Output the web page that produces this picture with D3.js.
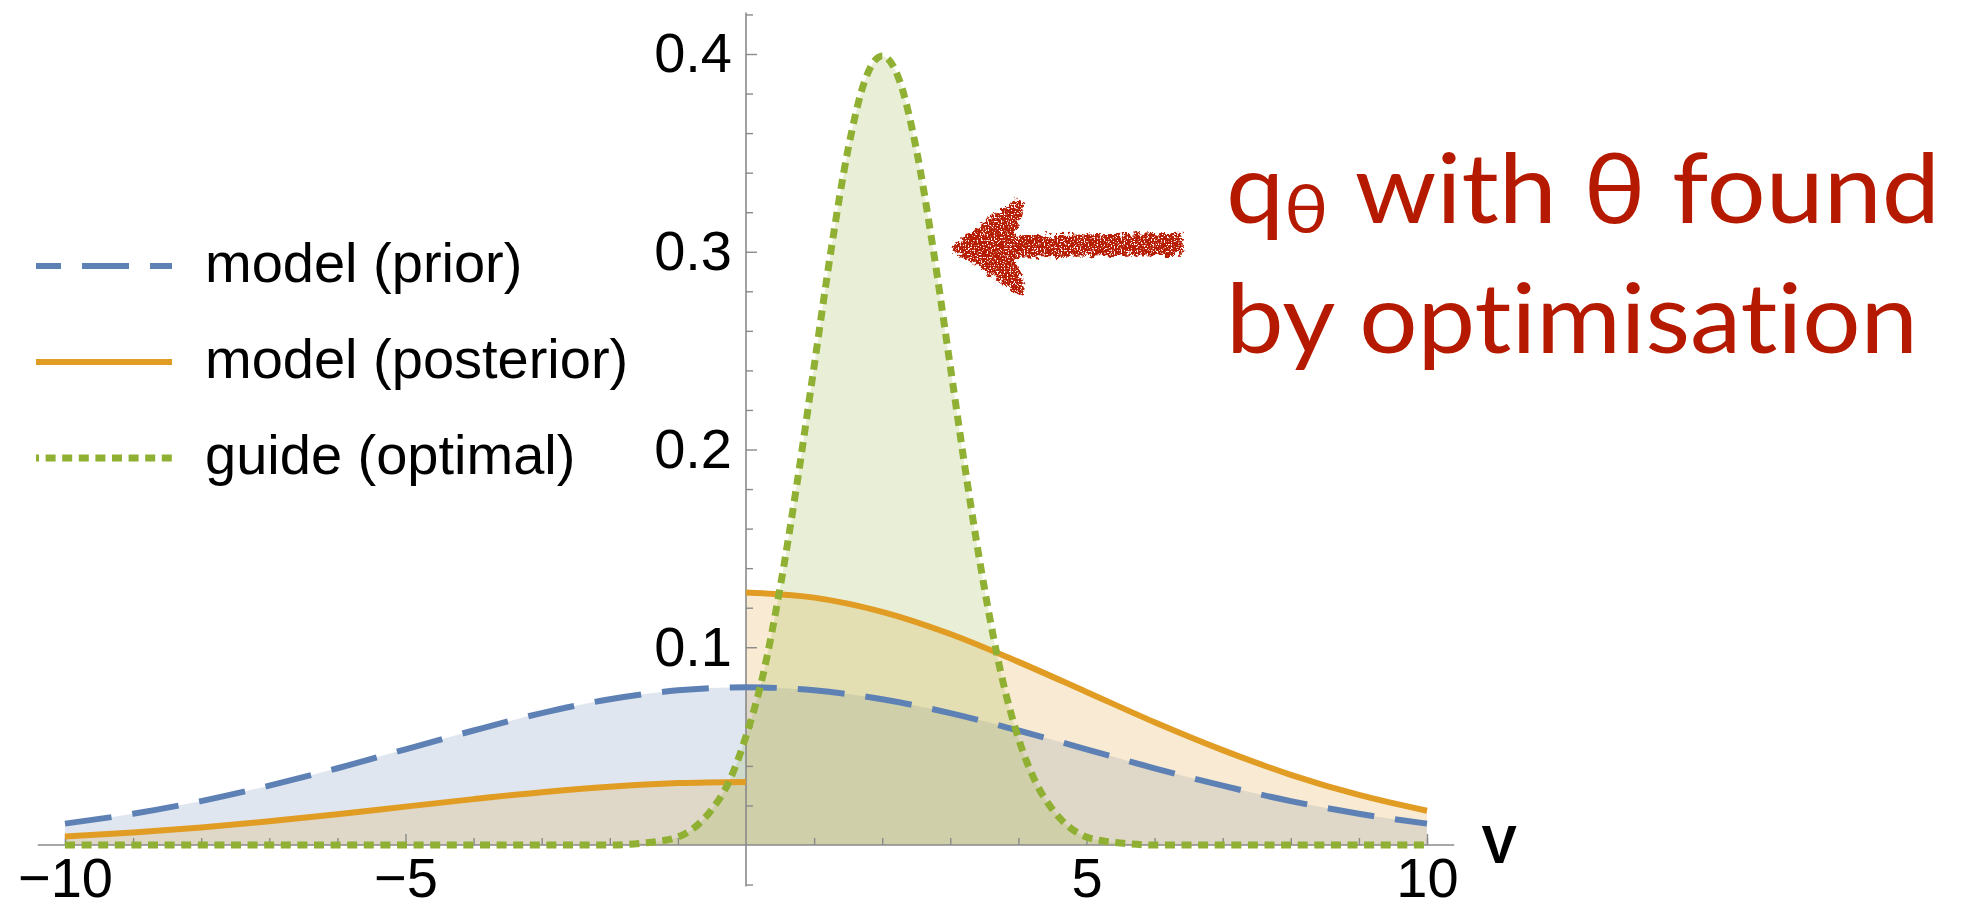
<!DOCTYPE html>
<html><head><meta charset="utf-8">
<script src="https://cdn.jsdelivr.net/npm/d3@7"></script>
<style>html,body{margin:0;padding:0;background:#fff;} svg{display:block} .note{font-variant-ligatures:none;font-feature-settings:"liga" 0,"clig" 0,"dlig" 0;}</style>
</head><body>
<svg id="chart" width="1972" height="912"></svg>
<script>
// ---- data ----
const priorX = [-10,-9,-8,-7,-6,-5,-4,-3,-2,-1,0,1,2,3,4,5,6,7,8,9,10];
const priorY = [0.0108,0.0158,0.0222,0.0300,0.0388,0.0484,0.0579,0.0667,0.0737,0.0782,0.0798,0.0782,0.0737,0.0667,0.0579,0.0484,0.0388,0.0300,0.0222,0.0158,0.0108];
const postLeftX = [-10,-9,-8,-7,-6,-5,-4,-3,-2,-1,0];
const postLeftY = [0.0043,0.0063,0.0089,0.0120,0.0155,0.0194,0.0232,0.0267,0.0295,0.0313,0.0319];
const postRightX = [0,1,2,3,4,5,6,7,8,9,10];
const postRightY = [0.1277,0.1251,0.1179,0.1067,0.0926,0.0774,0.0621,0.0480,0.0355,0.0253,0.0173];
const guideX = [-10,-8,-6,-4,-3,-2,-1.5,-1.25,-1,-0.75,-0.5,-0.25,0,0.25,0.5,0.75,1,1.25,1.5,1.75,2,2.25,2.5,2.75,3,3.25,3.5,3.75,4,4.25,4.5,4.75,5,5.25,5.5,6,7,8,10];
const guideY = [0,0,0,0,0,0,0.001,0.002,0.004,0.009,0.018,0.032,0.055,0.086,0.130,0.183,0.242,0.301,0.352,0.387,0.399,0.387,0.352,0.301,0.242,0.183,0.130,0.086,0.054,0.032,0.018,0.009,0.004,0.002,0.001,0,0,0,0];

const xMajorTicks = [-10,-5,5,10];
const xMajorLabels = ["\u221210","\u22125","5","10"];
const xMinorTicks = [-10,-9,-8,-7,-6,-4,-3,-2,-1,1,2,3,4,6,7,8,9,10];
const yMajorTicks = [0.1,0.2,0.3,0.4];
const yMajorLabels = ["0.1","0.2","0.3","0.4"];
const yMinorTicks = [-0.02,0.02,0.04,0.06,0.08,0.12,0.14,0.16,0.18,0.22,0.24,0.26,0.28,0.32,0.34,0.36,0.38,0.42];
const axisLabel = "V";
const legendLabels = ["model (prior)","model (posterior)","guide (optimal)"];
const seriesColors = ["#5e81b5","#e19c24","#8fb032"];
const noteLine1 = ["q","\u03b8"," with \u03b8 found"];
const noteLine2 = "by optimisation";
const arrowTipData = [3.0, 0.302];
const arrowTailData = [6.4, 0.304];

// ---- layout ----
const svg = d3.select("#chart");
const x = d3.scaleLinear().domain([-10,10]).range([65,1427]);
const y = d3.scaleLinear().domain([0,0.4]).range([845,54]);
const axisColor = "#8a8a8a";
const tickFont = "'Liberation Sans', Arial, Helvetica, sans-serif";

const zip = (xs, ys) => xs.map((v,i)=>[v, ys[i]]);
const prior = zip(priorX, priorY), postL = zip(postLeftX, postLeftY), postR = zip(postRightX, postRightY), guide = zip(guideX, guideY);

const area = (c) => d3.area().x(d=>x(d[0])).y0(y(0)).y1(d=>y(d[1])).curve(c);
const line = (c) => d3.line().x(d=>x(d[0])).y(d=>y(d[1])).curve(c);
const smooth = d3.curveMonotoneX;

// fills
const gF = svg.append("g");
gF.append("path").attr("d", area(smooth)(prior)).attr("fill", seriesColors[0]).attr("fill-opacity",0.2);
gF.append("path").attr("d", area(smooth)(postL)).attr("fill", seriesColors[1]).attr("fill-opacity",0.2);
gF.append("path").attr("d", area(smooth)(postR)).attr("fill", seriesColors[1]).attr("fill-opacity",0.2);
gF.append("path").attr("d", area(smooth)(guide)).attr("fill", seriesColors[2]).attr("fill-opacity",0.2);

// axes
const gA = svg.append("g");
gA.append("g").attr("transform",`translate(0,${y(0)})`)
  .call(d3.axisBottom(x).tickValues(xMajorTicks).tickSize(-11).tickPadding(12).tickFormat((d,i)=>xMajorLabels[i]));
gA.append("g").attr("transform",`translate(0,${y(0)})`)
  .call(d3.axisBottom(x).tickValues(xMinorTicks).tickSize(-7).tickFormat(""));
gA.append("g").attr("transform",`translate(${x(0)},0)`)
  .call(d3.axisLeft(y).tickValues(yMajorTicks).tickSize(-11).tickPadding(14).tickFormat((d,i)=>yMajorLabels[i]));
gA.append("g").attr("transform",`translate(${x(0)},0)`)
  .call(d3.axisLeft(y).tickValues(yMinorTicks).tickSize(-7).tickFormat(""));
gA.selectAll(".domain").remove();
gA.selectAll(".tick line").attr("stroke", axisColor).attr("stroke-width",1.4);
gA.selectAll(".tick text").attr("font-family", tickFont).attr("font-size",56).attr("fill","#000");
gA.append("line").attr("x1",x(-10.4)).attr("x2",x(10.4)).attr("y1",y(0)).attr("y2",y(0)).attr("stroke",axisColor).attr("stroke-width",1.6);
gA.append("line").attr("x1",x(0)).attr("x2",x(0)).attr("y1",y(-0.021)).attr("y2",y(0.421)).attr("stroke",axisColor).attr("stroke-width",1.6);
gA.append("text").attr("x", x(10.8)).attr("y", y(-0.009)).text(axisLabel)
  .attr("font-family", tickFont).attr("font-weight","bold").attr("font-size",53).attr("fill","#000");

// lines
const gL = svg.append("g").attr("fill","none");
gL.append("path").attr("d", line(smooth)(prior)).attr("stroke",seriesColors[0]).attr("stroke-width",6).attr("stroke-dasharray","47,21");
gL.append("path").attr("d", line(smooth)(postL)).attr("stroke",seriesColors[1]).attr("stroke-width",6);
gL.append("path").attr("d", line(smooth)(postR)).attr("stroke",seriesColors[1]).attr("stroke-width",6);
gL.append("path").attr("d", line(smooth)(guide)).attr("stroke",seriesColors[2]).attr("stroke-width",7).attr("stroke-dasharray","10,6.6");

// legend
const legY = [266, 362, 458];
const legDash = ["47,21", null, "10,6.6"];
const legOff = [22, 0, 7];
const legW = [6, 6, 7];
const gLeg = svg.append("g");
legendLabels.forEach((lab,i)=>{
  const l = gLeg.append("line").attr("x1",36).attr("x2",172).attr("y1",legY[i]).attr("y2",legY[i])
    .attr("stroke",seriesColors[i]).attr("stroke-width",legW[i]);
  if (legDash[i]) l.attr("stroke-dasharray",legDash[i]).attr("stroke-dashoffset",legOff[i]);
  gLeg.append("text").attr("x",205).attr("y",legY[i]+16).text(lab)
    .attr("font-family",tickFont).attr("font-size",56).attr("fill","#000");
});

// annotation
const red = "#b51a00";
const noteFont = "Lato, 'Open Sans', 'Noto Sans', sans-serif";
const t1 = svg.append("text").attr("class","note").attr("x",1226).attr("y",223).attr("font-family",noteFont).attr("font-size",96).attr("fill",red)
  .attr("textLength",714).attr("lengthAdjust","spacingAndGlyphs");
t1.append("tspan").text(noteLine1[0]);
t1.append("tspan").text(noteLine1[1]).attr("font-size",68).attr("dy",10);
t1.append("tspan").text(noteLine1[2]).attr("dy",-10);
svg.append("text").attr("class","note").attr("x",1226).attr("y",353).attr("font-family",noteFont).attr("font-size",96).attr("fill",red)
  .attr("textLength",692).attr("lengthAdjust","spacingAndGlyphs").text(noteLine2);

// hand-drawn arrow
const defs = svg.append("defs");
const f = defs.append("filter").attr("id","rough").attr("x","-20%").attr("y","-20%").attr("width","140%").attr("height","140%");
f.append("feTurbulence").attr("type","fractalNoise").attr("baseFrequency","0.2").attr("numOctaves",3).attr("seed",4).attr("result","n");
f.append("feDisplacementMap").attr("in","SourceGraphic").attr("in2","n").attr("scale",12).attr("xChannelSelector","R").attr("yChannelSelector","G").attr("result","d");
f.append("feTurbulence").attr("type","fractalNoise").attr("baseFrequency","0.7").attr("numOctaves",1).attr("seed",9).attr("result","s");
f.append("feColorMatrix").attr("in","s").attr("type","matrix")
  .attr("values","0 0 0 0 0  0 0 0 0 0  0 0 0 0 0  0 0 0 -10 6.6").attr("result","sm");
f.append("feComposite").attr("in","d").attr("in2","sm").attr("operator","in");
const tx = x(arrowTipData[0]), ty = y(arrowTipData[1]);
const ex = x(arrowTailData[0]), ey = y(arrowTailData[1]);
const hp = [[tx,ty],[tx+67,ty-50],[tx+74,ty-42],[tx+64,ty-12],[ex,ey-11],[ex+2,ey+11],[tx+64,ty+10],[tx+75,ty+40],[tx+70,ty+48]];
svg.append("path").attr("d","M"+hp.map(p=>p.join(",")).join("L")+"Z").attr("fill",red).attr("filter","url(#rough)");
</script>
</body></html>
